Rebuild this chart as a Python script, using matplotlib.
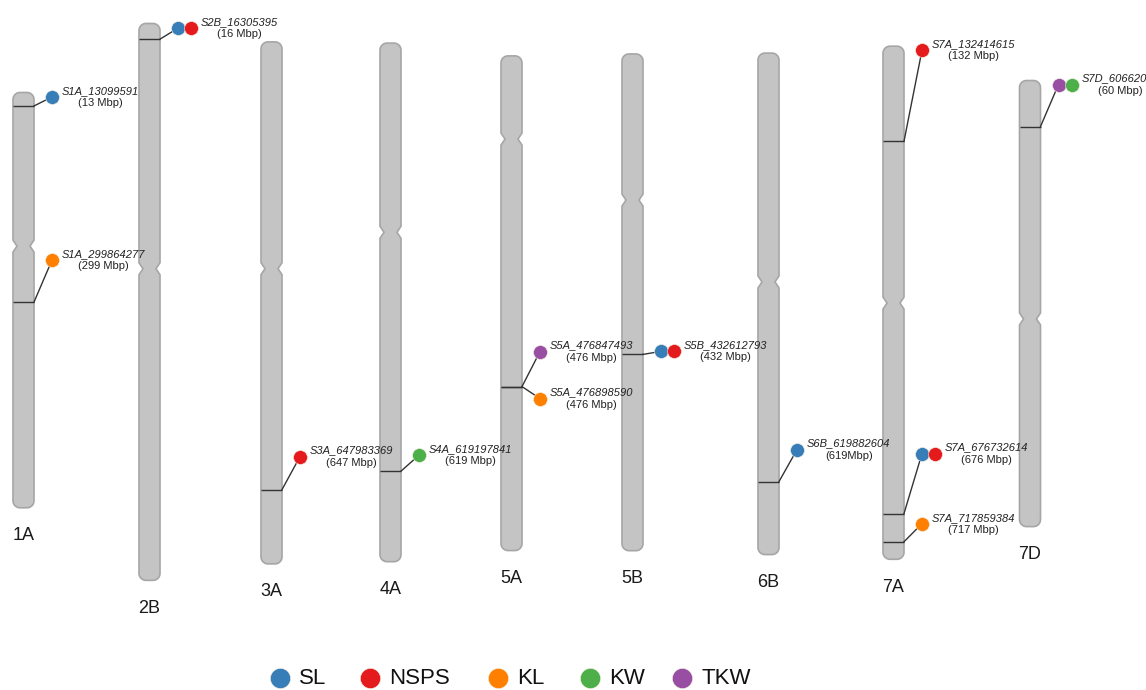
import numpy as np
import matplotlib
matplotlib.use("Agg")
import matplotlib.pyplot as plt
from matplotlib.patches import Polygon

plt.rcParams['font.family'] = ['Liberation Sans', 'DejaVu Sans']

# ---------------- data ----------------
chrom_names = ['1A', '2B', '3A', '4A', '5A', '5B', '6B', '7A', '7D']
chrom_len_mbp = [594, 801, 750, 745, 710, 713, 720, 737, 639]
centromere_mbp = [218, 352, 325, 270, 115, 207, 328, 369, 342]

marker_ids = ['S1A_13099591', 'S1A_299864277', 'S2B_16305395', 'S3A_647983369',
              'S4A_619197841', 'S5A_476847493', 'S5A_476898590', 'S5B_432612793',
              'S6B_619882604', 'S7A_132414615', 'S7A_676732614', 'S7A_717859384',
              'S7D_60662020']
marker_chrom = ['1A', '1A', '2B', '3A', '4A', '5A', '5A', '5B', '6B', '7A', '7A', '7A', '7D']
marker_bp = [13099591, 299864277, 16305395, 647983369, 619197841, 476847493,
             476898590, 432612793, 619882604, 132414615, 676732614, 717859384,
             60662020]
marker_pos_labels = ['(13 Mbp)', '(299 Mbp)', '(16 Mbp)', '(647 Mbp)', '(619 Mbp)',
                     '(476 Mbp)', '(476 Mbp)', '(432 Mbp)', '(619Mbp)', '(132 Mbp)',
                     '(676 Mbp)', '(717 Mbp)', '(60 Mbp)']
marker_traits = [['SL'], ['KL'], ['SL', 'NSPS'], ['NSPS'], ['KW'], ['TKW'], ['KL'],
                 ['SL', 'NSPS'], ['SL'], ['NSPS'], ['SL', 'NSPS'], ['KL'], ['TKW', 'KW']]

traits = ['SL', 'NSPS', 'KL', 'KW', 'TKW']
trait_colors = ['#377EB8', '#E41A1C', '#FF7F00', '#4DAF4A', '#984EA3']

# ---------------- layout ----------------
FIG_W, FIG_H = 1146, 690
PX_PER_MBP = 0.684                      # vertical scale of the map
chrom_x = [23.5, 149.5, 271.5, 390.5, 511.5, 632.5, 768.5, 893.5, 1030]
chrom_start = [141.8, 40.9, 67.8, 69.6, 88.3, 85.5, 84.2, 74.1, 124.3]  # track offset (Mbp units)
label_dy_px = [-9, -42, -11, -33, -16, -35, 12, -3, -32, -91, -60, -18, -42]
legend_x = [280, 370, 498, 590, 682]
legend_y_px = 678

CHROM_W = 21
FILL = '#c4c4c4'
EDGE = '#a6a6a6'
LINE = '#333333'


def px(v):
    """vertical pixel distance -> track units"""
    return v / PX_PER_MBP


def chrom_outline(xc, y0, y1, yc, w=CHROM_W, r=7.0, d=4.0, nh=6.0):
    xl, xr = xc - w / 2, xc + w / 2
    ry = px(r)
    t = np.linspace(0, np.pi / 2, 12)
    pts = []
    cx, cy = xl + r, y0 + ry
    pts += list(zip(cx - r * np.cos(t), cy - ry * np.sin(t)))
    cx, cy = xr - r, y0 + ry
    pts += list(zip(cx + r * np.sin(t), cy - ry * np.cos(t)))
    pts += [(xr, yc - px(nh)), (xr - d, yc), (xr, yc + px(nh))]
    cx, cy = xr - r, y1 - ry
    pts += list(zip(cx + r * np.cos(t), cy + ry * np.sin(t)))
    cx, cy = xl + r, y1 - ry
    pts += list(zip(cx - r * np.sin(t), cy + ry * np.cos(t)))
    pts += [(xl, yc + px(nh)), (xl + d, yc), (xl, yc - px(nh))]
    return pts


fig = plt.figure(figsize=(FIG_W / 100, FIG_H / 100), dpi=100)
ax = fig.add_axes([0, 0, 1, 1])
ax.set_xlim(0, FIG_W)
ax.set_ylim(px(FIG_H), 0)
ax.axis('off')

# chromosomes
for name, L, cen, xc, off in zip(chrom_names, chrom_len_mbp, centromere_mbp,
                                 chrom_x, chrom_start):
    y0 = off - px(4.5)
    y1 = off + L + px(4.5)
    poly = Polygon(chrom_outline(xc, y0, y1, off + cen), closed=True,
                   facecolor=FILL, edgecolor=EDGE, linewidth=1.2, zorder=1)
    ax.add_patch(poly)
    ax.text(xc, y1 + px(28), name, ha='center', va='center',
            fontsize=13, color='#1a1a1a')

# markers
renderer = fig.canvas.get_renderer()
for mid, chrom, bp, plab, trs, dy in zip(marker_ids, marker_chrom, marker_bp,
                                         marker_pos_labels, marker_traits, label_dy_px):
    i = chrom_names.index(chrom)
    xc = chrom_x[i]
    xl, xr = xc - CHROM_W / 2, xc + CHROM_W / 2
    y = chrom_start[i] + bp / 1e6
    ax.plot([xl, xr], [y, y], color=LINE, lw=1, zorder=2, solid_capstyle='butt')
    cy = y + px(dy)
    cx0 = xr + 18
    ax.plot([xr, cx0], [y, cy], color=LINE, lw=1, zorder=2)
    for k, tr in enumerate(trs):
        ax.scatter(cx0 + 13 * k, cy, s=100, color=trait_colors[traits.index(tr)],
                   edgecolor='#f4eee0', linewidth=0.4, zorder=4 + k)
    tx = cx0 + 13 * (len(trs) - 1) + 10
    t1 = ax.text(tx, cy - px(6), mid, ha='left', va='center', fontsize=8,
                 style='italic', color='#222222')
    bb = t1.get_window_extent(renderer=renderer)
    mx = ax.transData.inverted().transform(((bb.x0 + bb.x1) / 2, 0))[0]
    ax.text(mx, cy + px(6), plab, ha='center', va='center', fontsize=8,
            color='#222222')

# legend
for tr, col, lx in zip(traits, trait_colors, legend_x):
    ax.scatter(lx, px(legend_y_px), s=210, color=col, edgecolor='#f4eee0',
               linewidth=0.4, zorder=4)
    ax.text(lx + 19, px(legend_y_px), tr, ha='left', va='center', fontsize=16,
            color='#111111')

fig.savefig('out.png', dpi=100)
